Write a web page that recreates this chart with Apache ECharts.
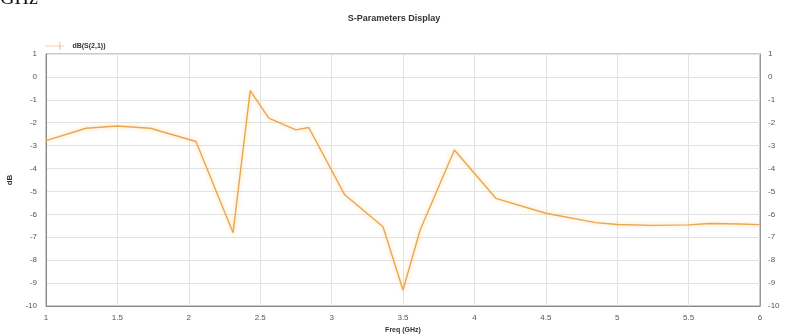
<!DOCTYPE html>
<html>
<head>
<meta charset="utf-8">
<script src="https://cdn.jsdelivr.net/npm/echarts@6/dist/echarts.min.js"></script>
<style>
  html, body { margin: 0; padding: 0; background: #fff; }
  #chart { width: 788px; height: 334px; }
</style>
</head>
<body>
<div id="chart"></div>
<script>
// Frequency sweep (GHz) and transmission magnitude dB(S(2,1))
const freqGHz = [1.0, 1.28, 1.5, 1.73, 2.05, 2.31, 2.43, 2.56, 2.75, 2.84, 3.09, 3.36, 3.5, 3.62, 3.86, 4.15, 4.5, 4.85, 5.0, 5.25, 5.5, 5.65, 5.85, 6.0];
const s21dB = [-2.78, -2.24, -2.14, -2.24, -2.82, -6.8, -0.6, -1.8, -2.31, -2.21, -5.13, -6.54, -9.3, -6.68, -3.19, -5.3, -5.95, -6.36, -6.44, -6.48, -6.46, -6.4, -6.42, -6.45];
const xTicks = [1, 1.5, 2, 2.5, 3, 3.5, 4, 4.5, 5, 5.5, 6];
const yTicks = [1, 0, -1, -2, -3, -4, -5, -6, -7, -8, -9, -10];

const points = freqGHz.map((f, i) => [f, s21dB[i]]);

const labelStyle = { fontSize: 8, color: '#555', fontFamily: 'Arial, Liberation Sans, sans-serif' };
const gridLine = { show: true, lineStyle: { color: '#e2e2e2', width: 1 } };

const chart = echarts.init(document.getElementById('chart'), null, { renderer: 'canvas' });
chart.setOption({
  backgroundColor: '#fff',
  animation: false,
  title: {
    text: 'S-Parameters Display',
    left: 'center',
    top: 9,
    textStyle: { fontSize: 9, fontWeight: 'bold', color: '#333', fontFamily: 'Arial, Liberation Sans, sans-serif' }
  },
  graphic: [{
    type: 'text',
    left: 0,
    top: -11,
    style: { text: 'GHz', font: '20px "Liberation Serif", serif', fill: '#111' }
  }],
  legend: {
    left: 40,
    top: 37,
    itemWidth: 26,
    itemHeight: 8,
    textStyle: { fontSize: 7, fontWeight: 'bold', color: '#333', fontFamily: 'Arial, Liberation Sans, sans-serif' },
    data: [{ name: 'dB(S(2,1))', icon: 'path://M0,5 L26,5 L26,6 L0,6 Z M20,0 L21,0 L21,11 L20,11 Z' }]
  },
  grid: {
    left: 46, right: 28, top: 54, bottom: 28,
    outerBoundsMode: 'none',
    containLabel: false,
    show: true, borderColor: '#999', borderWidth: 1
  },
  xAxis: {
    type: 'value',
    min: 1, max: 6, interval: 0.5,
    name: 'Freq (GHz)',
    nameLocation: 'middle',
    nameGap: 20,
    nameTextStyle: { fontSize: 7, fontWeight: 'bold', color: '#333' },
    axisLine: { show: true, onZero: false, lineStyle: { color: '#888' } },
    axisTick: { show: false },
    axisLabel: Object.assign({ margin: 8, formatter: v => (xTicks.includes(v) ? String(v) : '') }, labelStyle),
    splitLine: gridLine
  },
  yAxis: [{
    type: 'value',
    min: -10, max: 1, interval: 1,
    name: 'dB',
    nameLocation: 'middle',
    nameGap: 32,
    nameRotate: 90,
    nameTextStyle: { fontSize: 8, fontWeight: 'bold', color: '#333' },
    axisLine: { show: true, onZero: false, lineStyle: { color: '#888' } },
    axisTick: { show: false },
    axisLabel: Object.assign({ margin: 9, formatter: v => (yTicks.includes(v) ? String(v) : '') }, labelStyle),
    splitLine: gridLine
  }, {
    type: 'value',
    position: 'right',
    min: -10, max: 1, interval: 1,
    name: 'dB',
    nameLocation: 'middle',
    nameGap: 22,
    nameRotate: -90,
    nameTextStyle: { fontSize: 8, fontWeight: 'bold', color: '#333' },
    axisLine: { show: true, onZero: false, lineStyle: { color: '#999' } },
    axisTick: { show: false },
    axisLabel: Object.assign({ margin: 8 }, labelStyle),
    splitLine: { show: false }
  }],
  series: [{
    name: 'dB(S(2,1))',
    type: 'line',
    data: points,
    showSymbol: false,
    color: '#eea550',
    lineStyle: {
      color: '#eea550',
      width: 1.4,
      shadowColor: 'rgba(250, 205, 130, 0.8)',
      shadowBlur: 4
    }
  }]
});
</script>
</body>
</html>
